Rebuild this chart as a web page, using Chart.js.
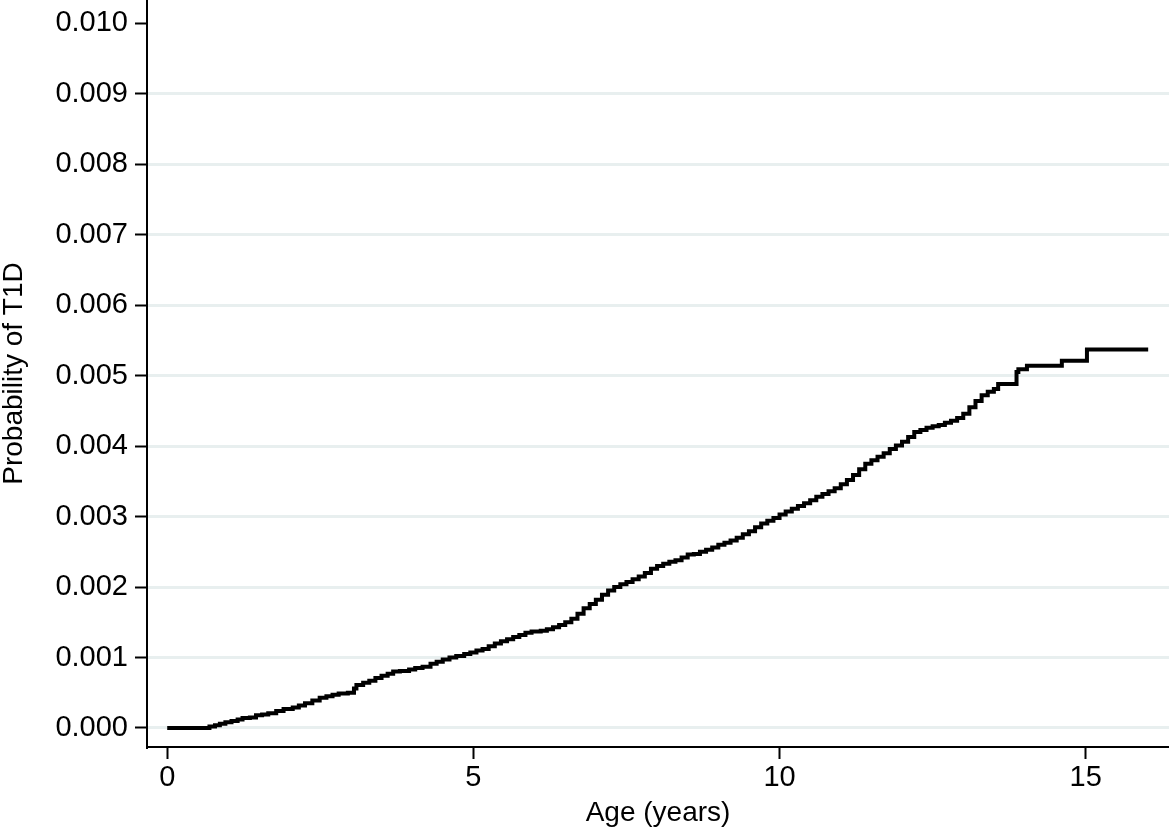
<!DOCTYPE html>
<html>
<head>
<meta charset="utf-8">
<script src="https://cdn.jsdelivr.net/npm/chart.js@4"></script>
<style>
  body { margin: 0; background: #fff; }
  canvas { display: block; }
</style>
</head>
<body>
<canvas id="myChart" width="1169" height="831"></canvas>
<script>
// cumulative probability of T1D by age (step at each age)
const ages = [
  0, 0.69, 0.78, 0.86, 0.95, 1.05, 1.15, 1.23, 1.35, 1.45, 1.55, 1.65, 1.78,
  1.9, 2.05, 2.15, 2.25, 2.37, 2.49, 2.6, 2.7, 2.8, 2.95, 3.05, 3.09, 3.2,
  3.3, 3.4, 3.5, 3.6, 3.69, 3.8, 3.95, 4.05, 4.17, 4.3, 4.4, 4.5, 4.61,
  4.72, 4.85, 4.95, 5.05, 5.15, 5.25, 5.35, 5.45, 5.55, 5.65, 5.75, 5.85,
  5.95, 6.1, 6.2, 6.3, 6.4, 6.5, 6.6, 6.7, 6.8, 6.9, 7.0, 7.1, 7.2, 7.3,
  7.4, 7.5, 7.6, 7.7, 7.8, 7.9, 8.0, 8.1, 8.2, 8.3, 8.4, 8.5, 8.6, 8.7,
  8.8, 8.9, 9.0, 9.1, 9.2, 9.3, 9.4, 9.5, 9.6, 9.7, 9.8, 9.9, 10.0, 10.1,
  10.2, 10.3, 10.4, 10.5, 10.6, 10.7, 10.8, 10.9, 11.0, 11.1, 11.2, 11.3,
  11.4, 11.5, 11.6, 11.7, 11.8, 11.9, 12.0, 12.1, 12.2, 12.3, 12.4, 12.5,
  12.6, 12.7, 12.8, 12.9, 13.0, 13.1, 13.2, 13.3, 13.4, 13.5, 13.57, 13.87,
  13.9, 14.04, 14.61, 15.02, 16.02
];
const probs = [
  0, 0.00002, 0.00004, 0.00006, 0.00008, 0.0001, 0.00012, 0.00014, 0.00015,
  0.00018, 0.00019, 0.00021, 0.00024, 0.00027, 0.00029, 0.00032, 0.00035,
  0.00039, 0.00043, 0.00045, 0.00047, 0.00049, 0.0005, 0.00056, 0.00061,
  0.00064, 0.00067, 0.00071, 0.00074, 0.00077, 0.0008, 0.00081, 0.00083,
  0.00085, 0.00087, 0.00091, 0.00094, 0.00097, 0.001, 0.00102, 0.00105,
  0.00107, 0.0011, 0.00112, 0.00116, 0.0012, 0.00123, 0.00126, 0.00129,
  0.00132, 0.00135, 0.00137, 0.00138, 0.0014, 0.00143, 0.00146, 0.0015,
  0.00155, 0.00162, 0.0017, 0.00176, 0.00182, 0.00189, 0.00195, 0.002,
  0.00204, 0.00207, 0.00211, 0.00215, 0.0022, 0.00226, 0.0023, 0.00233,
  0.00236, 0.00238, 0.00242, 0.00246, 0.00247, 0.0025, 0.00253, 0.00256,
  0.0026, 0.00263, 0.00266, 0.0027, 0.00275, 0.00279, 0.00285, 0.0029,
  0.00294, 0.00298, 0.00303, 0.00307, 0.00311, 0.00315, 0.00319, 0.00323,
  0.00328, 0.00332, 0.00336, 0.0034, 0.00346, 0.00352, 0.00359, 0.00367,
  0.00375, 0.0038, 0.00385, 0.0039, 0.00396, 0.00401, 0.00406, 0.00413,
  0.0042, 0.00423, 0.00426, 0.00428, 0.0043, 0.00433, 0.00436, 0.0044,
  0.00446, 0.00455, 0.00464, 0.00472, 0.00477, 0.00481, 0.00488, 0.00505,
  0.00509, 0.00514, 0.00521, 0.00537, 0.00537
];
const xTicks = [0, 5, 10, 15];
const yTicks = [0, 0.001, 0.002, 0.003, 0.004, 0.005, 0.006, 0.007, 0.008, 0.009, 0.010];

const font = { family: "'Liberation Sans', Arial, sans-serif", size: 29 };

const ctx = document.getElementById("myChart").getContext("2d");
const myChart = new Chart(ctx, {
  type: "line",
  data: {
    datasets: [{
      data: ages.map((a, i) => ({ x: a, y: probs[i] })),
      borderColor: "#000",
      borderWidth: 4,
      pointRadius: 0,
      stepped: true,
      fill: false,
    }],
  },
  options: {
    responsive: false,
    animation: false,
    layout: { padding: 0 },
    plugins: { legend: { display: false }, tooltip: { enabled: false } },
    scales: {
      x: {
        type: "linear",
        min: -0.33,
        max: 16.36,
        afterBuildTicks: (s) => { s.ticks = xTicks.map((v) => ({ value: v })); },
        afterFit: (s) => { s.height = 84; s.paddingLeft = 0; s.paddingRight = 0; },
        ticks: { color: "#000", font: font, padding: 2, maxRotation: 0 },
        grid: { drawOnChartArea: false, tickColor: "#000", tickLength: 12, tickWidth: 2 },
        border: { color: "#000", width: 2 },
        title: {
          display: true,
          text: "Age (years)",
          color: "#000",
          font: { ...font, size: 28, lineHeight: 1 },
          padding: { top: 0, bottom: 4 },
        },
      },
      y: {
        min: -0.00027,
        max: 0.01033,
        afterBuildTicks: (s) => { s.ticks = yTicks.map((v) => ({ value: v })); },
        afterFit: (s) => { s.width = 147; s.paddingTop = 0; s.paddingBottom = 0; },
        ticks: {
          color: "#000",
          font: font,
          padding: 7,
          callback: (v) => v.toFixed(3),
        },
        grid: {
          color: (c) => (c.tick && c.tick.value > 0.0095 ? "rgba(0,0,0,0)" : "#e8efef"),
          lineWidth: 3,
          tickColor: "#000",
          tickLength: 12,
          tickWidth: 2,
        },
        border: { color: "#000", width: 2 },
        title: {
          display: true,
          text: "Probability of T1D",
          color: "#000",
          font: { ...font, size: 28, lineHeight: 1 },
          padding: 0,
        },
      },
    },
  },
});
</script>
</body>
</html>
